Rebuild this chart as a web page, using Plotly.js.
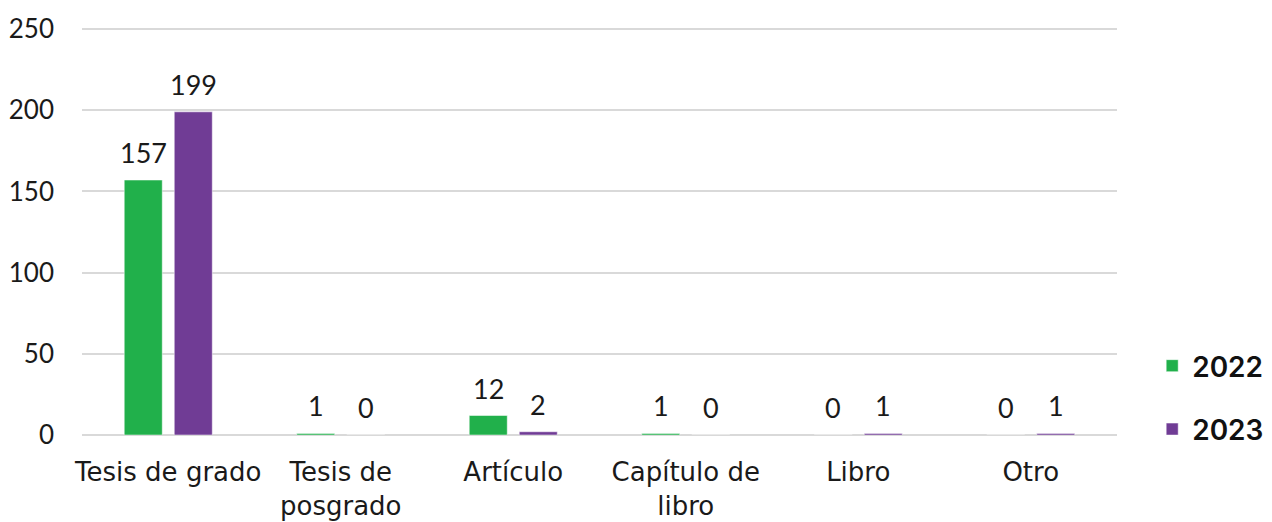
<!DOCTYPE html>
<html><head><meta charset="utf-8">
<script src="https://cdn.plot.ly/plotly-3.0.1.min.js"></script>
<style>html,body{margin:0;padding:0;background:#fff}#chart{width:1272px;height:522px}</style>
</head><body><div id="chart"></div>
<script>
const categories = ["Tesis de grado", "Tesis de<br>posgrado", "Artículo", "Capítulo de<br>libro", "Libro", "Otro"];
const values2022 = [157, 1, 12, 1, 0, 0];
const values2023 = [199, 0, 2, 0, 1, 1];
const seriesNames = ["2022", "2023"];
const colors = ["#21b04b", "#703c95"];
const seriesValues = [values2022, values2023];

const labelFont = {family: "Lato, 'Open Sans', sans-serif", size: 27, color: "#1a1a1a"};
function mk(vals, i) {
  return {
    type: "bar", x: categories, y: vals, name: seriesNames[i],
    legendgroup: "g" + i,
    marker: {color: colors[i], line: {color: "#ffffff", width: 0.5}},
    hoverinfo: "x+y"
  };
}
const data = [mk(values2022, 0), mk(values2023, 1)];

// value labels placed at each bar's data coordinates
const annotations = [];
seriesValues.forEach((vals, s) => {
  vals.forEach((v, i) => {
    annotations.push({
      x: categories[i], y: v, xref: "x", yref: "y", text: String(v),
      showarrow: false, xanchor: "center", yanchor: "bottom",
      xshift: s === 0 ? -25 : 25, yshift: 9, font: labelFont
    });
  });
});

const layout = {
  width: 1272, height: 522,
  margin: {l: 82, r: 155, t: 27, b: 87, autoexpand: false},
  paper_bgcolor: "#fff", plot_bgcolor: "#fff",
  barmode: "group", bargap: 0.42, bargroupgap: 0.24,
  showlegend: true,
  legend: {x: 1.034, xanchor: "left", y: 0.092, yanchor: "middle",
    font: {family: "Inter, 'DejaVu Sans', sans-serif", size: 28, color: "#111", weight: 600},
    tracegroupgap: 24, itemwidth: 30, bgcolor: "rgba(0,0,0,0)"},
  annotations: annotations,
  xaxis: {type: "category", tickfont: {family: "'DejaVu Sans', sans-serif", size: 26, color: "#1a1a1a"},
    ticks: "", showline: false, showgrid: false, ticklabelstandoff: 19},
  yaxis: {range: [0, 251.23], tickvals: [0, 50, 100, 150, 200, 250], showgrid: true, gridcolor: "#d9d9d9", gridwidth: 2,
    zeroline: true, zerolinecolor: "#d9d9d9", zerolinewidth: 2,
    tickfont: {family: "Lato, 'Open Sans', sans-serif", size: 26, color: "#1a1a1a"},
    ticklabelstandoff: 27, showline: false, ticks: ""}
};
Plotly.newPlot("chart", data, layout, {displayModeBar: false, staticPlot: true});
</script></body></html>
